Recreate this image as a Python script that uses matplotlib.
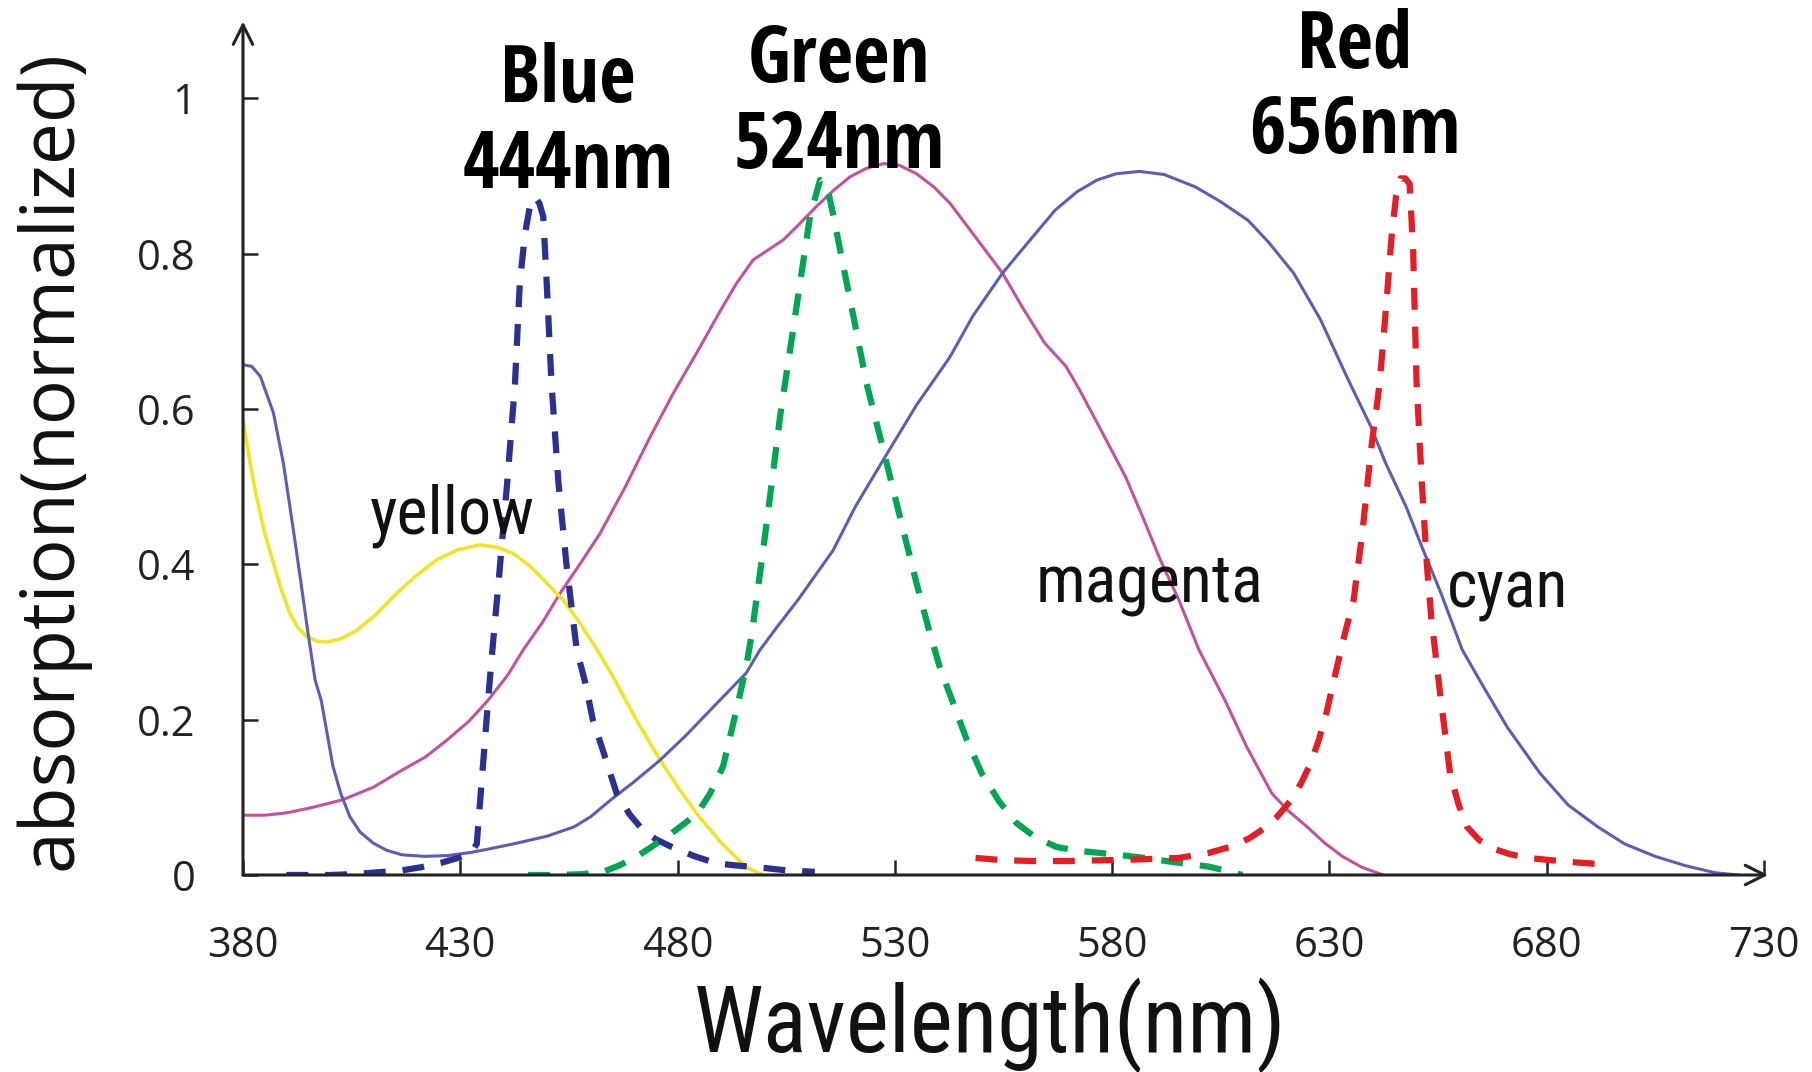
import matplotlib.pyplot as plt

# absorption curves of the dyes (solid)
cyan_nm = [380, 382, 384, 387, 389.3, 391.6, 393.5, 395, 396.6, 398, 400.7, 402.5, 404.6, 407, 410, 413,
           416.6, 421.9, 427, 432.4, 437, 443, 450, 456.2, 460, 464.7, 470, 476, 482, 488, 495.8, 499,
           503, 507.7, 515.8, 521, 527.3, 535, 542.7, 548, 554.8, 560, 566.9, 572, 576.6, 581, 586.3,
           592, 599.2, 605, 611.3, 616, 621.8, 628, 634, 639.6, 643, 647.7, 651.5, 655.7, 660.6, 665,
           671, 678.5, 685, 691.8, 698, 705, 712, 718.7, 724]
cyan_val = [0.657, 0.655, 0.642, 0.595, 0.530, 0.444, 0.37, 0.31, 0.251, 0.225, 0.14, 0.105, 0.075, 0.055,
            0.041, 0.032, 0.026, 0.024, 0.025, 0.029, 0.034, 0.041, 0.05, 0.062, 0.075, 0.097, 0.12, 0.148,
            0.18, 0.215, 0.26, 0.29, 0.32, 0.354, 0.418, 0.475, 0.534, 0.605, 0.667, 0.72, 0.775, 0.81,
            0.856, 0.88, 0.895, 0.903, 0.906, 0.902, 0.886, 0.867, 0.843, 0.815, 0.775, 0.715, 0.642,
            0.577, 0.53, 0.474, 0.42, 0.363, 0.29, 0.247, 0.19, 0.131, 0.09, 0.062, 0.04, 0.024, 0.012,
            0.003, 0.0]

magenta_nm = [380, 385, 390, 396, 403, 410, 416.6, 422, 427, 432, 436.4, 441, 444.5, 449, 453, 457.5,
              462.2, 468, 473.7, 479, 485.2, 490, 493.6, 497.4, 504.4, 508, 512, 516, 519.7, 523.5, 527.4,
              531, 535, 539, 542.7, 548.5, 554.8, 559.5, 564.5, 569.4, 572.5, 576.6, 583.1, 587, 591.1,
              595.4, 600, 606, 611, 616.8, 620.5, 624.9, 629, 633, 637.5, 642.4]
magenta_val = [0.077, 0.077, 0.08, 0.087, 0.097, 0.113, 0.135, 0.152, 0.174, 0.198, 0.225, 0.258, 0.29,
               0.326, 0.363, 0.40, 0.44, 0.50, 0.564, 0.62, 0.680, 0.728, 0.762, 0.792, 0.818, 0.838,
               0.861, 0.882, 0.899, 0.910, 0.916, 0.914, 0.903, 0.886, 0.865, 0.822, 0.775, 0.73, 0.685,
               0.655, 0.625, 0.582, 0.513, 0.462, 0.406, 0.354, 0.29, 0.225, 0.165, 0.105, 0.083, 0.062,
               0.041, 0.024, 0.01, 0.0]

yellow_nm = [380, 381.5, 383.1, 385, 387, 388.8, 390.8, 392.7, 394.7, 397, 399.3, 402.5, 406.2, 410.5,
             415.4, 420, 424.6, 429.5, 434.5, 438.5, 442.2, 446, 449.9, 453.7, 457.6, 461.5, 465.2,
             470.5, 476, 480.5, 485, 490, 495.8, 499.7]
yellow_val = [0.586, 0.535, 0.487, 0.44, 0.402, 0.368, 0.337, 0.318, 0.307, 0.301, 0.30, 0.304, 0.315,
              0.335, 0.363, 0.386, 0.406, 0.419, 0.425, 0.422, 0.414, 0.398, 0.376, 0.354, 0.324, 0.29,
              0.255, 0.20, 0.148, 0.11, 0.075, 0.042, 0.01, 0.0]

# emission of the light sources (dashed)
blue_nm = [390, 395, 400, 405, 410, 416.6, 421, 425.8, 429.5, 432.4, 433.8, 434.6, 435.5, 436.4, 437.4,
           438.8, 440.8, 442.6, 443.7, 444.9, 446, 447.2, 448.2, 449.1, 449.9, 451, 452.6, 454.5, 456.8,
           458.8, 460.5, 462.8, 466, 469, 472, 475, 478.7, 484, 489, 494, 498.5, 505, 511.6]
blue_val = [0.0, 0.0, 0.0, 0.001, 0.003, 0.006, 0.01, 0.016, 0.022, 0.028, 0.04, 0.097, 0.16, 0.225, 0.29,
            0.376, 0.505, 0.633, 0.762, 0.826, 0.860, 0.873, 0.865, 0.848, 0.762, 0.633, 0.505, 0.397,
            0.29, 0.247, 0.2, 0.161, 0.105, 0.078, 0.058, 0.046, 0.036, 0.024, 0.015, 0.012, 0.01, 0.006,
            0.004]

green_nm = [445.6, 452, 458, 462.8, 466.5, 470.7, 474.5, 478.7, 482, 484.6, 487.5, 490.5, 493.2, 495.8,
            497.1, 499.7, 501.7, 503.6, 505.9, 508.2, 510.5, 512.8, 514.5, 515.9, 518.2, 520.5, 523.5,
            527.4, 531.2, 535, 538.1, 540.5, 543.2, 546.5, 550, 554, 558, 562.5, 567.3, 572.5, 578, 583,
            587.4, 595, 602, 606, 610]
green_val = [0.0, 0.0, 0.001, 0.004, 0.012, 0.024, 0.038, 0.054, 0.068, 0.08, 0.105, 0.14, 0.204, 0.268,
             0.311, 0.418, 0.505, 0.59, 0.676, 0.762, 0.848, 0.895, 0.885, 0.848, 0.783, 0.719, 0.633,
             0.547, 0.461, 0.376, 0.311, 0.265, 0.225, 0.175, 0.131, 0.095, 0.067, 0.048, 0.036, 0.031,
             0.028, 0.025, 0.022, 0.016, 0.011, 0.006, 0.0]

red_nm = [548.6, 555, 562, 570, 578, 586, 595.4, 602, 607, 611.5, 615, 618, 621, 623.5, 625.8, 627.6,
          629.4, 630.9, 633.6, 635.6, 637.6, 639.6, 641.6, 643.2, 644.4, 645.4, 646.4, 647.5, 648.5, 649.3,
          650.1, 651.3, 652.5, 653.5, 655.7, 657.8, 659.8, 661.7, 664.5, 667.7, 671.5, 675.7, 685, 694.6]
red_val = [0.022, 0.019, 0.018, 0.018, 0.019, 0.02, 0.022, 0.028, 0.036, 0.047, 0.06, 0.075, 0.095, 0.118,
           0.145, 0.174, 0.21, 0.247, 0.311, 0.354, 0.44, 0.547, 0.633, 0.74, 0.826, 0.875, 0.897, 0.897,
           0.89, 0.805, 0.633, 0.505, 0.397, 0.33, 0.225, 0.131, 0.09, 0.062, 0.045, 0.034, 0.027, 0.022,
           0.017, 0.013]

x_ticks = [380, 430, 480, 530, 580, 630, 680, 730]
y_ticks = [0, 0.2, 0.4, 0.6, 0.8, 1.0]
y_tick_labels = ["0", "0.2", "0.4", "0.6", "0.8", "1"]

AXIS_C = "#222222"
COND = ["Roboto Condensed", "Open Sans", "DejaVu Sans"]

fig = plt.figure(figsize=(18.12, 10.72), dpi=100)
ax = fig.add_axes([243 / 1812, 197 / 1072, 1542.5 / 1812, 869.8 / 1072])
ax.set_xlim(380, 735)
ax.set_ylim(0, 1.12)
for s in ax.spines.values():
    s.set_visible(False)

ax.plot(magenta_nm, magenta_val, color="#c4519f", lw=2.2)
ax.plot(yellow_nm, yellow_val, color="#f0e32a", lw=2.6)
ax.plot(cyan_nm, cyan_val, color="#5a5fb5", lw=2.2)

dash = (0, (3.5, 2.7))
ax.plot(blue_nm, blue_val, color="#2b3190", lw=4.5, ls=dash)
ax.plot(green_nm, green_val, color="#00a651", lw=4.5, ls=dash)
ax.plot(red_nm, red_val, color="#e31e24", lw=4.5, ls=dash)

# axes drawn as arrows
arrow = dict(arrowstyle="->,head_length=0.7,head_width=0.35", lw=2.2, color=AXIS_C,
             shrinkA=0, shrinkB=0, mutation_scale=20)
ax.annotate("", xy=(731, 0), xytext=(380, 0), arrowprops=arrow, annotation_clip=False)
ax.annotate("", xy=(380, 1.099), xytext=(380, 0), arrowprops=arrow, annotation_clip=False)

ax.set_xticks(x_ticks)
ax.set_yticks(y_ticks)
ax.set_yticklabels(y_tick_labels)
ax.tick_params(direction="in", length=11, width=1.8, color=AXIS_C, labelcolor="#222222",
               labelsize=30)
ax.tick_params(axis="x", pad=36)
ax.tick_params(axis="y", pad=34)
for lab in ax.get_xticklabels() + ax.get_yticklabels():
    lab.set_family(["Open Sans", "DejaVu Sans"])

fig.text(990 / 1812, 20 / 1072, "Wavelength(nm)", ha="center", va="baseline",
         fontsize=66, family=COND, color="#111111")
fig.text(52 / 1812, 612 / 1072, "absorption(normalized)", ha="center", va="center",
         rotation=90, fontsize=54, family=["Open Sans", "DejaVu Sans"], color="#111111")

# light source labels
bold = dict(ha="center", va="baseline", fontsize=57, fontweight="bold",
            family=["Open Sans Condensed", "DejaVu Sans"], fontstretch="condensed", clip_on=False)
ax.text(454.8, 0.995, "Blue", **bold)
ax.text(454.8, 0.885, "444nm", **bold)
ax.text(517.2, 1.021, "Green", **bold)
ax.text(517.2, 0.910, "524nm", **bold)
ax.text(635.9, 1.039, "Red", **bold)
ax.text(635.9, 0.930, "656nm", **bold)

# dye labels
small = dict(ha="center", va="baseline", fontsize=47.5, family=COND, color="#111111")
ax.text(428.1, 0.440, "yellow", **small)
ax.text(588.6, 0.352, "magenta", **small)
ax.text(671.0, 0.344, "cyan", **small)

fig.savefig("out.png", dpi=100)
